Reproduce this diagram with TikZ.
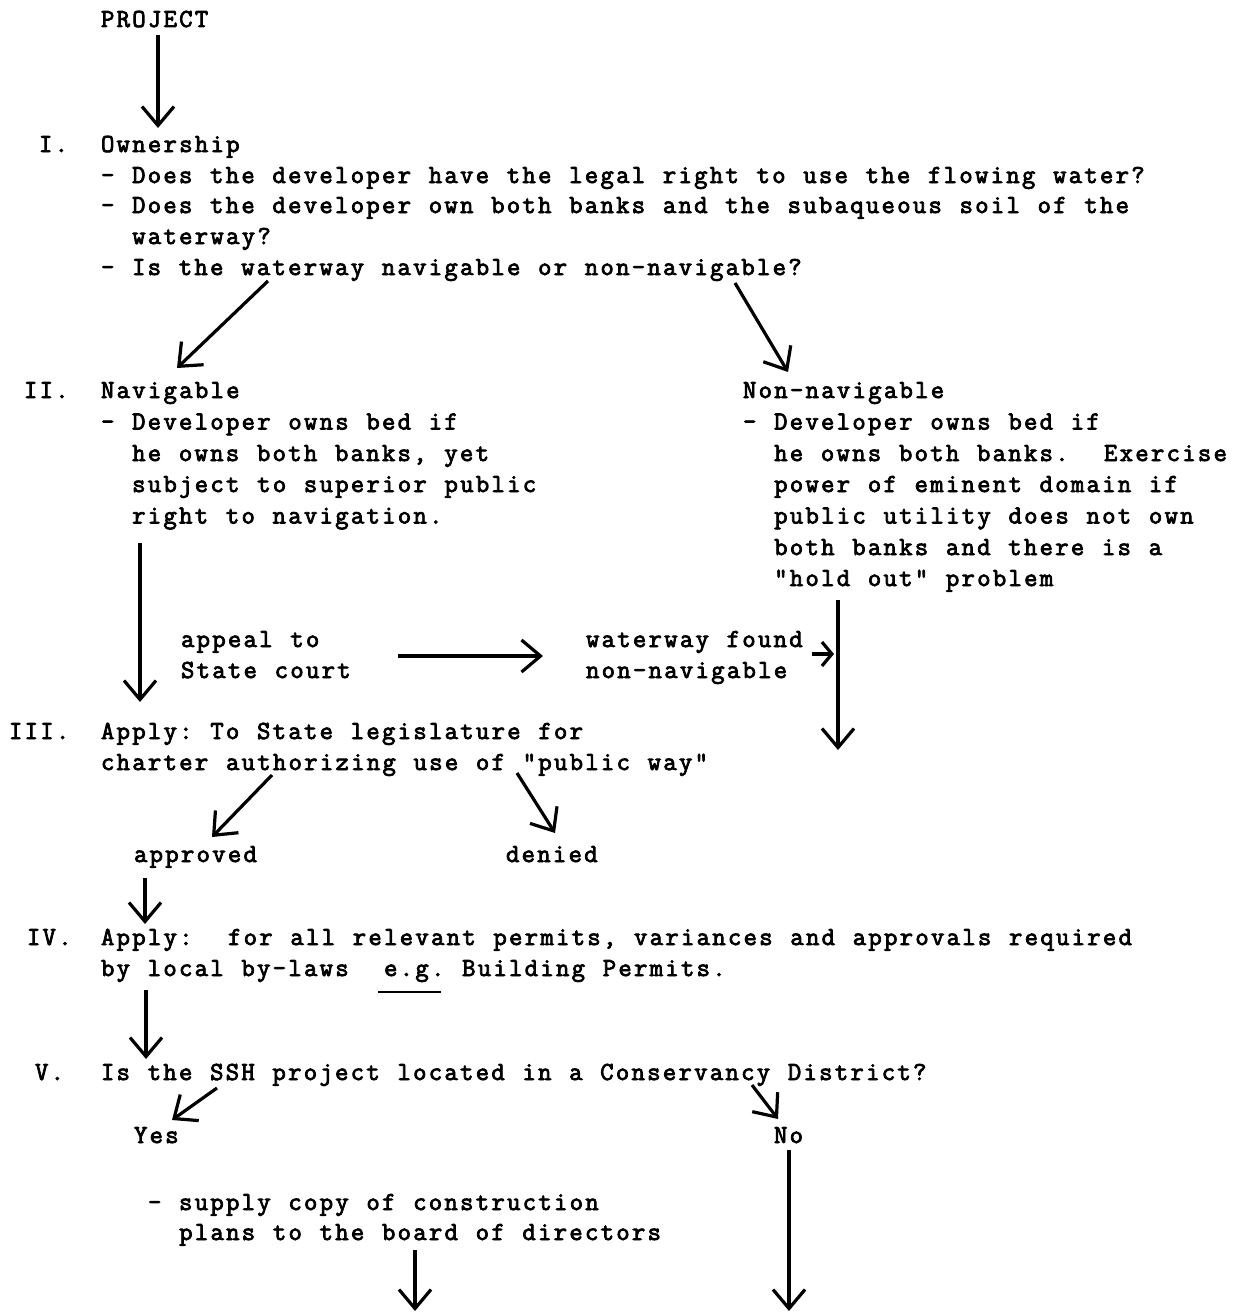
\documentclass[tikz,border=0pt]{standalone}
\usepackage{fontspec}
\setmonofont[LetterSpace=8.7,WordSpace=1.13,FakeBold=3]{Latin Modern Mono}
\usetikzlibrary{arrows.meta}
\frenchspacing
\tikzset{
  txt/.style={anchor=base west, inner sep=0pt, outer sep=0pt, font={\ttfamily\fontsize{26}{31}\selectfont}},
  arr/.style={line width=3.2pt, -{Straight Barb[length=19pt,width=32pt]}},
  smallarr/.style={line width=3.2pt, -{Straight Barb[length=10pt,width=24pt]}},
  uline/.style={line width=1.8pt}
}
\begin{document}
\begin{tikzpicture}[x=1pt,y=1pt]
\fill[white] (0,0) rectangle (1235,-1314);
\useasboundingbox (0,0) rectangle (1235,-1314);

% ---- top
\node[txt] (proj) at (101,-27) {PROJECT};
\node[txt] (n1) at (39,-152) {I.};
\node[txt] (own) at (101,-152) {Ownership};
\node[txt] (own1) at (101,-183) {- Does the developer have the legal right to use the flowing water?};
\node[txt] (own2) at (101,-213) {- Does the developer own both banks and the subaqueous soil of the};
\node[txt] (own3) at (132.2,-244) {waterway?};
\node[txt] (own4) at (101,-275) {- Is the waterway navigable or non-navigable?};

% ---- II left
\node[txt] (n2) at (24,-398) {II.};
\node[txt] (nav) at (101,-398) {Navigable};
\node[txt] (nav1) at (101,-429.5) {- Developer owns bed if};
\node[txt] (nav2) at (132.2,-461) {he owns both banks, yet};
\node[txt] (nav3) at (132.2,-492) {subject to superior public};
\node[txt] (nav4) at (132.2,-523.5) {right to navigation.};

% ---- II right
\node[txt] (non) at (743,-398) {Non-navigable};
\node[txt] (non1) at (743,-429.5) {- Developer owns bed if};
\node[txt] (non2) at (774.2,-461) {he owns both banks.\ \ Exercise};
\node[txt] (non3) at (774.2,-492) {power of eminent domain if};
\node[txt] (non4) at (774.2,-523.5) {public utility does not own};
\node[txt] (non5) at (774.2,-555) {both banks and there is a};
\node[txt] (non6) at (774.2,-586) {"hold out" problem};

% ---- appeal
\node[txt] (app1) at (181,-647) {appeal to};
\node[txt] (app2) at (181,-678) {State court};
\node[txt] (fnd1) at (586,-647) {waterway found};
\node[txt] (fnd2) at (586,-678) {non-navigable};

% ---- III
\node[txt] (n3) at (9,-739) {III.};
\node[txt] (leg1) at (101,-739) {Apply: To State legislature for};
\node[txt] (leg2) at (101,-770) {charter authorizing use of "public way"};
\node[txt] (appr) at (134,-862) {approved};
\node[txt] (den) at (506,-862) {denied};

% ---- IV
\node[txt] (n4) at (27,-945) {IV.};
\node[txt] (per1) at (101,-945) {Apply:\ \ for all relevant permits, variances and approvals required};
\node[txt] (per2) at (101,-976) {by local by-laws\ \ e.g. Building Permits.};

% ---- V
\node[txt] (n5) at (35,-1080) {V.};
\node[txt] (cons) at (101,-1080) {Is the SSH project located in a Conservancy District?};
\node[txt] (yes) at (134,-1143) {Yes};
\node[txt] (no) at (774,-1143) {No};
\node[txt] (sup1) at (148,-1210) {- supply copy of construction};
\node[txt] (sup2) at (179.2,-1240) {plans to the board of directors};

% ---- connector end points
\coordinate (a1s) at (158,-35);   \coordinate (a1e) at (158,-128);
\coordinate (a2s) at (268,-281);  \coordinate (a2e) at (177,-368);
\coordinate (a3s) at (735,-283);  \coordinate (a3e) at (788,-372);
\coordinate (a4s) at (140,-543);  \coordinate (a4e) at (140,-702);
\coordinate (a5s) at (398,-656);  \coordinate (a5e) at (543,-656);
\coordinate (a6s) at (812,-654);  \coordinate (a6e) at (834,-654);
\coordinate (a7s) at (838,-600);  \coordinate (a7e) at (838,-750);
\coordinate (a8s) at (272,-775);  \coordinate (a8e) at (212,-837);
\coordinate (a9s) at (517,-773);  \coordinate (a9e) at (555,-833);
\coordinate (a10s) at (145,-878); \coordinate (a10e) at (145,-924);
\coordinate (a11s) at (146,-990); \coordinate (a11e) at (146,-1059);
\coordinate (a12s) at (217,-1088); \coordinate (a12e) at (172,-1120);
\coordinate (a13s) at (752,-1085); \coordinate (a13e) at (778,-1119);
\coordinate (a14s) at (789,-1150); \coordinate (a14e) at (789,-1311);
\coordinate (a15s) at (415,-1250); \coordinate (a15e) at (415,-1311);
\coordinate (uls) at (378,-992);  \coordinate (ule) at (441,-992);

\draw[arr] (a1s) -- (a1e);
\draw[arr] (a2s) -- (a2e);
\draw[arr] (a3s) -- (a3e);
\draw[arr] (a4s) -- (a4e);
\draw[arr] (a5s) -- (a5e);
\draw[smallarr] (a6s) -- (a6e);
\draw[arr] (a7s) -- (a7e);
\draw[arr] (a8s) -- (a8e);
\draw[arr] (a9s) -- (a9e);
\draw[arr] (a10s) -- (a10e);
\draw[arr] (a11s) -- (a11e);
\draw[arr] (a12s) -- (a12e);
\draw[arr] (a13s) -- (a13e);
\draw[arr] (a14s) -- (a14e);
\draw[arr] (a15s) -- (a15e);
\draw[uline] (uls) -- (ule);
\end{tikzpicture}
\end{document}
